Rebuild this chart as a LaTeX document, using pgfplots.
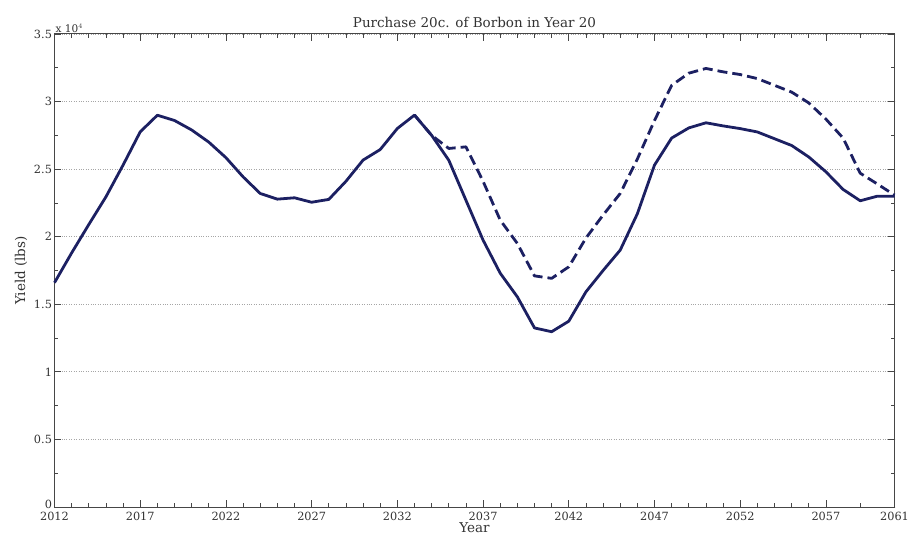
\documentclass[border=0pt]{standalone}
\usepackage{pgfplots}
\pgfplotsset{compat=1.18}
\usepackage{fontspec}
\setmainfont{DejaVu Serif}
\definecolor{navy}{RGB}{28,32,98}
\definecolor{axgray}{RGB}{70,70,70}
\definecolor{txtgray}{RGB}{50,50,50}
\begin{document}
\begin{tikzpicture}
\begin{axis}[
  name=ax,
  scale only axis,
  width=840pt, height=473pt,
  xmin=2012, xmax=2061, ymin=0, ymax=35000,
  xtick={2012,2017,2022,2027,2032,2037,2042,2047,2052,2057,2061},
  xticklabels={2012,2017,2022,2027,2032,2037,2042,2047,2052,2057,2061},
  minor xtick={2013,2014,2015,2016,2018,2019,2020,2021,2023,2024,2025,2026,2028,2029,2030,2031,2033,2034,2035,2036,2038,2039,2040,2041,2043,2044,2045,2046,2048,2049,2050,2051,2053,2054,2055,2056,2059},
  ytick={0,5000,10000,15000,20000,25000,30000,35000},
  yticklabels={\raisebox{5pt}{0},0.5,1,1.5,2,2.5,3,3.5},
  minor ytick={2500,7500,12500,17500,22500,27500,32500},
  scaled y ticks=false,
  tick align=inside,
  major tick length=7pt, minor tick length=4pt,
  tick style={axgray, line width=0.8pt},
  axis line style={axgray, line width=1pt},
  ymajorgrids,
  major grid style={gray!70, dotted, line width=0.8pt},
  /pgf/number format/assume math mode=true,
  tick label style={font=\fontsize{11.3}{13}\selectfont, text=txtgray},
  xticklabel style={yshift=-2pt},
  yticklabel style={xshift=1pt},
  title={Purchase 20c. of Borbon in Year 20},
  title style={font=\fontsize{13.5}{15}\selectfont, text=txtgray, yshift=-3pt},
  xlabel={Year},
  ylabel={Yield (lbs)},
  label style={font=\fontsize{13.5}{15}\selectfont, text=txtgray},
  xlabel style={yshift=5pt},
  ylabel style={yshift=0pt},
  clip=false,
]
\addplot[navy, line width=2.8pt, line join=round] coordinates {
(2012,16600) (2013,18800) (2014,20900) (2015,22950) (2016,25300) (2017,27760)
(2018,28990) (2019,28600) (2020,27900) (2021,27000) (2022,25850) (2023,24430)
(2024,23200) (2025,22780) (2026,22880) (2027,22550) (2028,22760) (2029,24100)
(2030,25670) (2031,26450) (2032,28010) (2033,29000) (2034,27500) (2035,25660)
(2036,22700) (2037,19750) (2038,17300) (2039,15550) (2040,13250) (2041,12970)
(2042,13750) (2043,15920) (2044,17500) (2045,19010) (2046,21700) (2047,25300)
(2048,27300) (2049,28050) (2050,28430) (2051,28200) (2052,28000) (2053,27750)
(2054,27250) (2055,26750) (2056,25900) (2057,24800) (2058,23500) (2059,22660)
(2060,23000) (2061,23000)
};
\addplot[navy, line width=2.8pt, dash pattern=on 10pt off 5pt, line join=round] coordinates {
(2033,29000) (2034,27500) (2035,26530) (2036,26650) (2037,24100) (2038,21230)
(2039,19500) (2040,17100) (2041,16920) (2042,17770) (2043,19900) (2044,21600)
(2045,23200) (2046,25750) (2047,28600) (2048,31200) (2049,32100) (2050,32450)
(2051,32200) (2052,32000) (2053,31700) (2054,31200) (2055,30700) (2056,29900)
(2057,28700) (2058,27300) (2059,24700) (2060,23900) (2061,23080)
};
\node[anchor=south west, font=\fontsize{10.5}{12}\selectfont, text=txtgray, inner sep=1pt] at (rel axis cs:0,1) {x 10$^{4}$};
\end{axis}
\pgfresetboundingbox
\path ([shift={(-54.5pt,-34pt)}]ax.south west) rectangle ([shift={(14.5pt,34pt)}]ax.north east);
\end{tikzpicture}
\end{document}
